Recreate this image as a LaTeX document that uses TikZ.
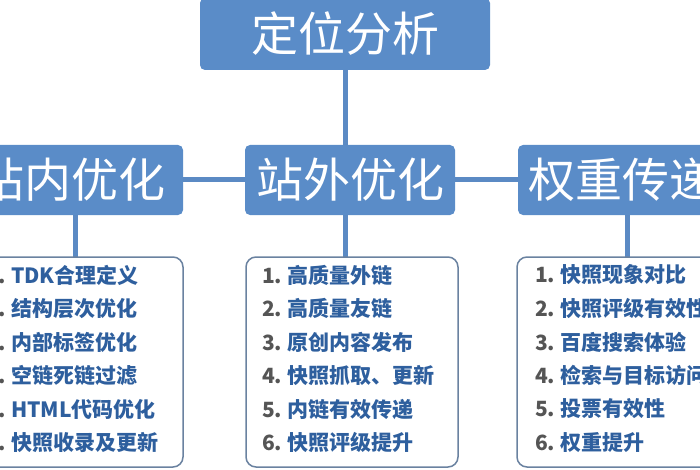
\documentclass[tikz,border=0pt]{standalone}
\usepackage{fontspec}
\newfontfamily\cjk{Noto Sans CJK SC}
\definecolor{boxblue}{HTML}{5A8CC8}
\definecolor{lineblue}{HTML}{5B8AC4}
\definecolor{listblue}{HTML}{2E5F9E}
\definecolor{numgray}{HTML}{555555}
\definecolor{frame}{HTML}{6A82A0}
\tikzset{
  head/.style={fill=boxblue, rounded corners=5pt, text=white, font=\cjk\fontsize{47}{50}\selectfont, inner sep=0pt},
  listbox/.style={draw=frame, line width=1.5pt, fill=white, rounded corners=10pt},
  conn/.style={draw=lineblue, line width=5pt},
  item/.style={anchor=west, font=\cjk\bfseries\fontsize{21}{24}\selectfont, text=listblue, inner sep=0pt}
}
\newcommand{\itm}[2]{\textcolor{numgray}{#1.}\ #2}
\begin{document}
\begin{tikzpicture}[x=1pt,y=-1pt]
\useasboundingbox (0,0) rectangle (700,470);
\clip (0,0) rectangle (700,470);
\draw[conn] (345,40) -- (345,180);
\draw[conn] (100,180) -- (600,180);
\draw[conn] (75,180) -- (75,260);
\draw[conn] (345,180) -- (345,260);
\draw[conn] (627,180) -- (627,260);
\node[head, minimum width=290pt, minimum height=72pt] (top) at (345,34) {定位分析};
\node[head, minimum width=223pt, minimum height=70pt] (l) at (71.5,180) {站内优化};
\node[head, minimum width=210pt, minimum height=70pt] (c) at (350,180) {站外优化};
\node[head, minimum width=260pt, minimum height=70pt, text width=240pt, align=left] (r) at (648,180) {权重传递};
\draw[listbox] (-40,257) rectangle (183,467);
\draw[listbox] (246,257) rectangle (458,467);
\draw[listbox] (517,257) rectangle (760,467);
\foreach \i/\t in {1/TDK合理定义,2/结构层次优化,3/内部标签优化,4/空链死链过滤,5/HTML代码优化,6/快照收录及更新}
  \node[item] (a\i) at (-14,{241.5+33.5*\i}) {\itm{\i}{\t}};
\foreach \i/\t in {1/高质量外链,2/高质量友链,3/原创内容发布,4/快照抓取、更新,5/内链有效传递,6/快照评级提升}
  \node[item] (b\i) at (262,{241.5+33.5*\i}) {\itm{\i}{\t}};
\foreach \i/\t in {1/快照现象对比,2/快照评级有效性,3/百度搜索体验,4/检索与目标访问,5/投票有效性,6/权重提升}
  \node[item] (c\i) at (535,{241.5+33.5*\i}) {\itm{\i}{\t}};
\end{tikzpicture}
\end{document}
